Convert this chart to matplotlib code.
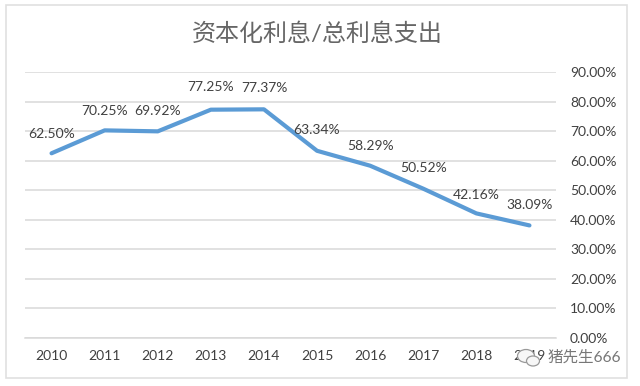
import matplotlib
matplotlib.use("Agg")
import matplotlib.pyplot as plt
from matplotlib.patches import Rectangle, Ellipse
from matplotlib.transforms import IdentityTransform

plt.rcParams['font.family'] = ['Lato', 'Noto Sans CJK SC', 'DejaVu Sans']

years = ['2010', '2011', '2012', '2013', '2014', '2015', '2016', '2017', '2018', '2019']
values = [62.50, 70.25, 69.92, 77.25, 77.37, 63.34, 58.29, 50.52, 42.16, 38.09]
y_ticks = [0, 10, 20, 30, 40, 50, 60, 70, 80, 90]
# label offsets in points, the originals are placed by hand
offsets = [(0, 14), (0, 14), (0, 15), (0, 16), (0, 15), (0, 15), (0, 14), (0, 15), (0, 13), (0, 15)]

W, H = 640, 386
fig = plt.figure(figsize=(6.4, 3.86), dpi=100, facecolor='white')
ax = fig.add_axes([25 / W, 48 / H, 531 / W, 266 / H])
ax.patch.set_alpha(0)

# outer frame of the screenshot
fig.patches.append(Rectangle((6 / W, 1 - 378 / H), 621 / W, 373 / H, transform=fig.transFigure,
                             facecolor='white', edgecolor='#e0e0e0', linewidth=1.2, zorder=-1))

xs = list(range(len(years)))
ax.plot(xs, values, color='#5b9bd5', linewidth=3.0, solid_capstyle='round')

for x, v, off in zip(xs, values, offsets):
    ax.annotate(f'{v:.2f}%', (x, v), xytext=off, textcoords='offset points',
                ha='center', va='center', fontsize=10, color='#404040')

ax.set_xlim(-0.5, 9.5)
ax.set_ylim(0, 90)
ax.set_xticks(xs)
ax.set_xticklabels(years, fontsize=10, color='#404040')
ax.yaxis.tick_right()
ax.set_yticks(y_ticks)
ax.set_yticklabels([f'{t:.2f}%' for t in y_ticks], fontsize=10, color='#404040')
ax.tick_params(axis='x', length=0, pad=9)
ax.tick_params(axis='y', length=0, pad=10)
ax.grid(axis='y', color='#d9d9d9', linewidth=1.1)
ax.set_axisbelow(True)
for s in ['top', 'left', 'right']:
    ax.spines[s].set_visible(False)
ax.spines['bottom'].set_color('#d9d9d9')
ax.spines['bottom'].set_linewidth(1.1)

fig.text(317.5 / W, 1 - 34 / H, '资本化利息/总利息支出', ha='center', va='center', fontsize=17.3, color='#666666')

# watermark at the lower right corner, sits on top of the 2019 label
for cx, cy, w, h in [(526, 356, 17, 13), (533, 361, 13, 10)]:
    fig.patches.append(Ellipse((cx, H - cy), w, h, transform=IdentityTransform(),
                               facecolor='#f7f7f7', edgecolor='#999999', linewidth=0.9, zorder=2))
fig.text(548 / W, 1 - 358 / H, '猪先生666', ha='left', va='center', fontsize=11.2, color='#777777', zorder=3)

fig.savefig('out.png', dpi=100, facecolor=fig.get_facecolor())
